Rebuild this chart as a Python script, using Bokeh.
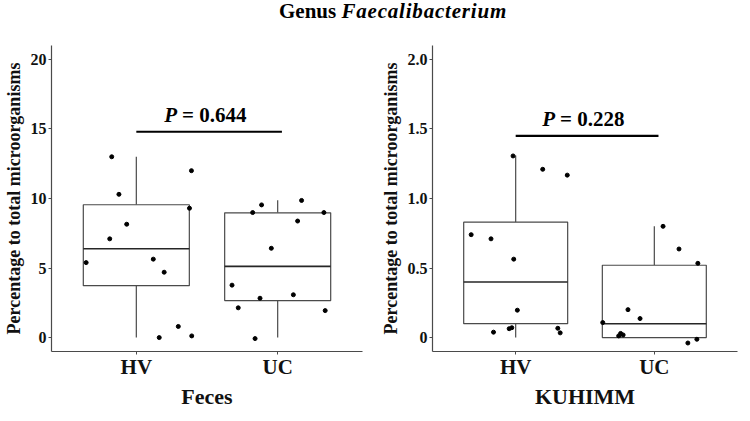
from bokeh.plotting import figure
from bokeh.models import Range1d, FixedTicker, CustomJSTickFormatter, Div
from bokeh.layouts import column, row
from bokeh.core.properties import value
from bokeh.embed import file_html
from bokeh.resources import INLINE

# ---------------- data ----------------
groups = ["HV", "UC"]

feces_hv = [13.0, 12.0, 10.3, 9.3, 8.15, 7.1, 5.64, 5.39, 4.7, 0.8, 0.12, 0.0]
feces_hv_jit = [-0.174, 0.39, -0.123, 0.376, -0.068, -0.188, 0.12, -0.355, 0.197, 0.297, 0.392, 0.162]
feces_uc = [8.99, 9.54, 9.86, 8.99, 8.38, 6.42, 3.77, 2.83, 2.14, 3.08, 1.94, -0.07]
feces_uc_jit = [-0.177, -0.114, 0.169, 0.327, 0.141, -0.045, -0.323, -0.125, -0.279, 0.111, 0.336, -0.16]
feces_q1 = [3.73, 2.66]
feces_med = [6.39, 5.12]
feces_q3 = [9.55, 8.97]
feces_wlo = [0.0, 0.0]
feces_whi = [13.0, 9.88]
feces_p = "0.644"

# KUHIMM panel
kuhimm_hv = [1.306, 1.21, 1.168, 0.74, 0.71, 0.564, 0.197, 0.039, 0.064, 0.071, 0.067, 0.034]
kuhimm_hv_jit = [-0.019, 0.195, 0.372, -0.321, -0.178, -0.014, 0.012, -0.16, -0.047, -0.028, 0.304, 0.321]
kuhimm_uc = [0.80, 0.637, 0.534, 0.201, 0.137, 0.108, 0.03, 0.019, 0.012, -0.012, -0.039]
kuhimm_uc_jit = [0.063, 0.178, 0.314, -0.19, -0.103, -0.372, -0.243, -0.225, -0.257, 0.307, 0.242]
kuhimm_q1 = [0.10, 0.0]
kuhimm_med = [0.40, 0.10]
kuhimm_q3 = [0.83, 0.52]
kuhimm_wlo = [0.0, 0.0]
kuhimm_whi = [1.31, 0.80]
kuhimm_p = "0.228"

feces_ticks = [0, 5, 10, 15, 20]
kuhimm_ticks = [0, 0.5, 1.0, 1.5, 2.0]

title_plain = "Genus"
title_italic = "Faecalibacterium"

FONT = "Liberation Serif"
AX = "#4a4a4a"


def make_panel(hv, hv_jit, uc, uc_jit, q1, med, q3, wlo, whi, ylim, ticks, fmt_code,
               bracket_y, label_y, pval, xlabel, frame_w, mb_left, mb_right):
    p = figure(frame_width=frame_w, frame_height=306, output_backend="svg", toolbar_location=None,
               title=None,
               x_range=Range1d(0.4, 2.6), y_range=Range1d(*ylim),
               min_border_top=23, min_border_bottom=54,
               min_border_left=mb_left, min_border_right=mb_right)
    p.outline_line_color = None
    p.grid.visible = False
    p.background_fill_color = "white"
    p.border_fill_color = "white"

    pos = [i + 1 for i in range(len(groups))]
    hw = 0.375
    # whiskers
    p.segment(x0=pos, x1=pos, y0=q3, y1=whi, line_color=AX, line_width=1.2)
    p.segment(x0=pos, x1=pos, y0=wlo, y1=q1, line_color=AX, line_width=1.2)
    # boxes
    p.quad(left=[x - hw for x in pos], right=[x + hw for x in pos], bottom=q1, top=q3,
           fill_color="white", line_color=AX, line_width=1.2)
    # medians
    p.segment(x0=[x - hw for x in pos], x1=[x + hw for x in pos], y0=med, y1=med,
              line_color="#262626", line_width=1.6)
    # points
    xs = [pos[0] + j for j in hv_jit] + [pos[1] + j for j in uc_jit]
    ys = list(hv) + list(uc)
    p.scatter(x=xs, y=ys, size=4, fill_color="black", line_color="black")

    # significance bracket
    p.segment(x0=[pos[0]], x1=[pos[1] + 0.03], y0=[bracket_y], y1=[bracket_y],
              line_color="black", line_width=2.2)
    p.text(x=[1.5], y=[label_y], text=["P"], text_align="right", text_baseline="alphabetic",
           x_offset=-30, text_font=value(FONT), text_font_style="bold italic",
           text_font_size="21px", text_color="black")
    p.text(x=[1.5], y=[label_y], text=["= " + pval], text_align="left", text_baseline="alphabetic",
           x_offset=-25, text_font=value(FONT), text_font_style="bold",
           text_font_size="21px", text_color="black")

    # axes
    xa = p.xaxis[0]
    xa.ticker = FixedTicker(ticks=pos)
    xa.major_label_overrides = {pos[i]: groups[i] for i in range(len(groups))}
    xa.axis_label = xlabel
    ya = p.yaxis[0]
    ya.ticker = FixedTicker(ticks=ticks)
    ya.formatter = CustomJSTickFormatter(code=fmt_code)
    ya.axis_label = "Percentage to total microorganisms"

    for ax in (xa, ya):
        ax.axis_line_color = AX
        ax.axis_line_width = 1.2
        ax.major_tick_line_color = AX
        ax.major_tick_out = 3
        ax.major_tick_in = 0
        ax.minor_tick_line_color = None
        ax.major_label_text_font = FONT
        ax.major_label_text_font_style = "bold"
        ax.major_label_text_color = "#111111"
        ax.axis_label_text_font = FONT
        ax.axis_label_text_font_style = "bold"
        ax.axis_label_text_color = "#111111"
    xa.major_label_text_font_size = "21px"
    xa.axis_label_text_font_size = "22px"
    xa.major_label_text_line_height = 1.0
    xa.axis_label_text_line_height = 1.0
    xa.major_label_standoff = 0
    xa.axis_label_standoff = 2
    ya.major_label_text_font_size = "16px"
    ya.axis_label_text_font_size = "18px"
    ya.major_label_standoff = 2
    ya.axis_label_standoff = 4
    return p


p1 = make_panel(feces_hv, feces_hv_jit, feces_uc, feces_uc_jit, feces_q1, feces_med, feces_q3,
                feces_wlo, feces_whi, (-1, 21), feces_ticks, "return tick.toFixed(0)",
                14.8, 16.0, feces_p, "Feces", 311, 47, 10)
p2 = make_panel(kuhimm_hv, kuhimm_hv_jit, kuhimm_uc, kuhimm_uc_jit, kuhimm_q1, kuhimm_med, kuhimm_q3,
                kuhimm_wlo, kuhimm_whi, (-0.1, 2.1), kuhimm_ticks,
                "return tick == 0 ? '0' : tick.toFixed(1)",
                1.45, 1.574, kuhimm_p, "KUHIMM", 305, 60, 1)

title_html = (
    '<div style="font-family: \'Liberation Serif\', serif; font-size: 21px; line-height: 22px; '
    'font-weight: bold; color: black; white-space: nowrap; padding-left: 279px; margin: 0;">'
    + title_plain + ' <i style="letter-spacing: 0.8px;">' + title_italic + "</i></div>"
)
t = Div(text=title_html, width=734, height=22, margin=(0, 0, 0, 0))

layout = column(t, row(p1, p2))
open("out.html", "w").write(file_html(layout, INLINE))
